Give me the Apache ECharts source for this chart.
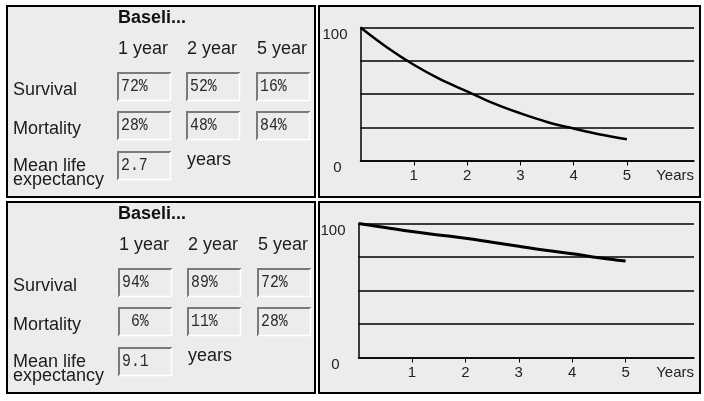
<!DOCTYPE html>
<html>
<head>
<meta charset="utf-8">
<script src="https://cdn.jsdelivr.net/npm/echarts@6/dist/echarts.min.js"></script>
<style>
html,body{margin:0;padding:0;background:#fff;}
#chart{width:704px;height:401px;}
</style>
</head>
<body>
<div id="chart"></div>
<script>
// ---- data ----
const panelTitle = 'Baseli...';
const columnLabels = ['1 year', '2 year', '5 year'];
const rowLabels = ['Survival', 'Mortality'];
const lifeLabelLines = ['Mean life', 'expectancy'];
const lifeUnit = 'years';
const survivalTop = [72, 52, 16];
const mortalityTop = [28, 48, 84];
const lifeTop = 2.7;
const survivalBottom = [94, 89, 72];
const mortalityBottom = [6, 11, 28];
const lifeBottom = 9.1;
const curveYears = [0, 0.5, 1, 1.5, 2, 2.5, 3, 3.5, 4, 4.5, 5];
const curveTop = [100, 85, 72, 61, 52, 43, 35.5, 29, 24, 19.5, 16];
const curveBottom = [100, 97, 94, 91.5, 89, 86, 83, 80, 77.5, 74.5, 72];
const xTickValues = [1, 2, 3, 4, 5];
const yLabelValues = [0, 100];
const xAxisName = 'Years';

// ---- layout helpers ----
const BG = '#ececec';
const TXT = '#1c1c1c';
const labelFont = '18px "Liberation Sans", Arial, sans-serif';
const boldFont = 'bold 18px "Liberation Sans", Arial, sans-serif';
const monoFont = '19px "Liberation Mono", "DejaVu Sans Mono", monospace';

function pct(v) { return (v < 10 ? ' ' : '') + v + '%'; }

function panelGraphics(oy, surv, mort, life, bx) {
  const g = [];
  g.push({type: 'rect', shape: {x: 7, y: 6 + oy, width: 308, height: 191}, style: {fill: BG, stroke: '#000', lineWidth: 2}, silent: true});
  g.push({type: 'rect', shape: {x: 319, y: 6 + oy, width: 381, height: 191}, style: {fill: BG, stroke: '#000', lineWidth: 2}, silent: true});
  g.push({type: 'text', x: 118, y: 18 + oy, style: {text: panelTitle, font: boldFont, fill: '#111', textVerticalAlign: 'middle'}});
  const colX = [117 + bx, 186 + bx, 256 + bx];
  columnLabels.forEach((c, i) => {
    g.push({type: 'text', x: colX[i] + 1, y: 49 + oy, style: {text: c, font: labelFont, fill: TXT, textVerticalAlign: 'middle'}});
  });
  const rowY = [72, 111];
  rowLabels.forEach((r, i) => {
    g.push({type: 'text', x: 13, y: rowY[i] + 18 + oy, style: {text: r, font: labelFont, fill: TXT, textVerticalAlign: 'middle'}});
  });
  g.push({type: 'text', x: 13, y: 166 + oy, style: {text: lifeLabelLines[0], font: labelFont, fill: TXT, textVerticalAlign: 'middle'}});
  g.push({type: 'text', x: 13, y: 180 + oy, style: {text: lifeLabelLines[1], font: labelFont, fill: TXT, textVerticalAlign: 'middle'}});
  g.push({type: 'text', x: 187 + bx, y: 160 + oy, style: {text: lifeUnit, font: labelFont, fill: TXT, textVerticalAlign: 'middle'}});

  function box(x, y, txt) {
    const w = 54, h = 29;
    g.push({type: 'rect', shape: {x: x, y: y, width: w, height: h}, style: {fill: BG}, silent: true});
    g.push({type: 'polyline', shape: {points: [[x + 1, y + h], [x + 1, y + 1], [x + w, y + 1]]}, style: {stroke: '#7a7a7a', lineWidth: 2, fill: null}, silent: true});
    g.push({type: 'polyline', shape: {points: [[x + 1, y + h - 0.5], [x + w - 0.5, y + h - 0.5], [x + w - 0.5, y + 1]]}, style: {stroke: '#ffffff', lineWidth: 1.5, fill: null}, silent: true});
    g.push({type: 'text', x: x + 4, y: y + 14, scaleX: 0.78, style: {text: txt, font: monoFont, fill: '#2a2a2a', textVerticalAlign: 'middle'}});
  }
  surv.forEach((v, i) => box(colX[i], rowY[0] + oy, pct(v)));
  mort.forEach((v, i) => box(colX[i], rowY[1] + oy, pct(v)));
  box(colX[0], 151 + oy, life.toFixed(1));
  return g;
}

function xAxisCfg(gi, max) {
  return {
    type: 'value', gridIndex: gi, min: 0, max: max,
    name: xAxisName, nameLocation: 'end', nameGap: 0,
    nameTextStyle: {align: 'right', verticalAlign: 'top', padding: [8, 0, 0, 0], fontSize: 15, color: '#222', fontFamily: 'Liberation Sans, Arial, sans-serif'},
    splitLine: {show: false},
    axisLine: {show: true, lineStyle: {color: '#000', width: 1.5}},
    axisTick: {show: true, customValues: xTickValues, length: 5, lineStyle: {color: '#000', width: 1}},
    axisLabel: {customValues: xTickValues, margin: 8, fontSize: 15, color: '#222', fontFamily: 'Liberation Sans, Arial, sans-serif'}
  };
}
function yAxisCfg(gi) {
  return {
    type: 'value', gridIndex: gi, min: 0, max: 100, interval: 25,
    splitLine: {show: true, lineStyle: {color: '#000', width: 1.5}},
    axisLine: {show: true, lineStyle: {color: '#000', width: 1.5}},
    axisTick: {show: false},
    axisLabel: {
      customValues: yLabelValues, margin: 13, align: 'right', verticalAlign: 'top',
      fontSize: 15, color: '#222', fontFamily: 'Liberation Sans, Arial, sans-serif',
      formatter: v => v === 0 ? '{z|0}' : String(v),
      rich: {z: {fontSize: 15, color: '#222', padding: [0, 6, 0, 0], fontFamily: 'Liberation Sans, Arial, sans-serif'}}
    }
  };
}

const chart = echarts.init(document.getElementById('chart'), null, {renderer: 'canvas'});
const graphics = [].concat(
  panelGraphics(0, survivalTop, mortalityTop, lifeTop, 0),
  panelGraphics(196, survivalBottom, mortalityBottom, lifeBottom, 1)
);
chart.setOption({
  animation: false,
  backgroundColor: '#fff',
  graphic: {elements: graphics},
  grid: [
    {left: 360.5, top: 27.5, width: 333.5, height: 133, containLabel: false},
    {left: 358.5, top: 223.5, width: 335.5, height: 134, containLabel: false}
  ],
  xAxis: [xAxisCfg(0, 6.26), xAxisCfg(1, 6.28)],
  yAxis: [yAxisCfg(0), yAxisCfg(1)],
  series: [
    {type: 'line', xAxisIndex: 0, yAxisIndex: 0, smooth: 0.4, showSymbol: false,
     lineStyle: {color: '#000', width: 2.5}, data: curveYears.map((t, i) => [t, curveTop[i]]), z: 5},
    {type: 'line', xAxisIndex: 1, yAxisIndex: 1, smooth: 0.4, showSymbol: false,
     lineStyle: {color: '#000', width: 3}, data: curveYears.map((t, i) => [t, curveBottom[i]]), z: 5}
  ]
});
</script>
</body>
</html>
